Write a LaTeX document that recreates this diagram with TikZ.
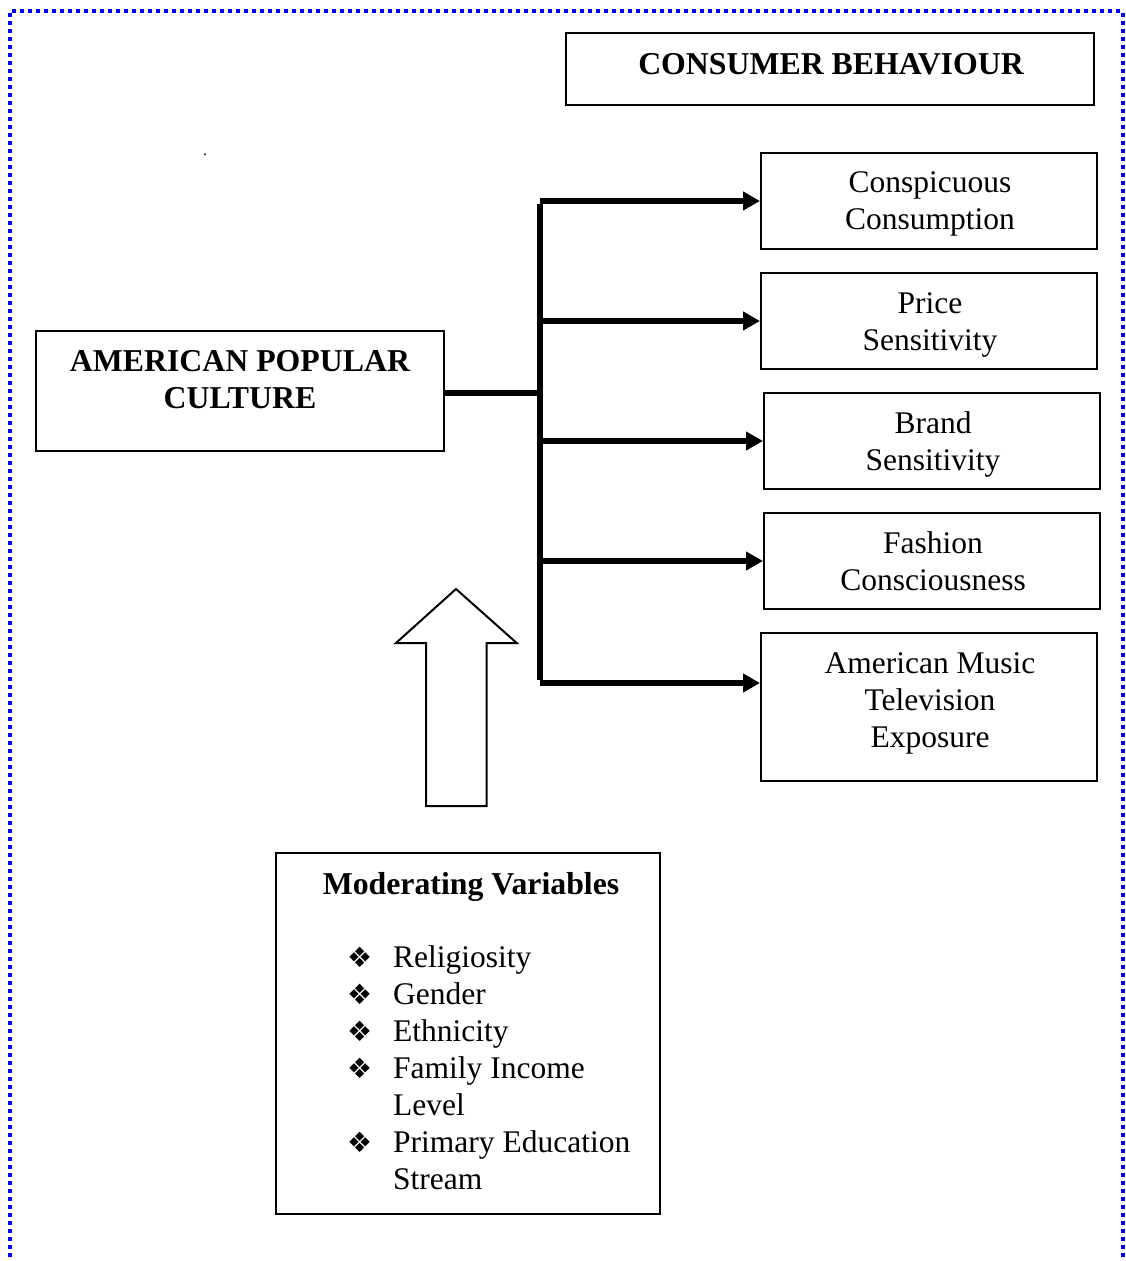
\documentclass[tikz,border=0pt]{standalone}
\usepackage{fontspec}
\setmainfont{Liberation Serif}
\newfontfamily\dingfont{DejaVu Sans}
\usetikzlibrary{arrows.meta}
\newcommand\ts{\fontsize{31.5}{37}\selectfont}
\newcommand\tsb{\fontsize{31.8}{37}\selectfont}
\newcommand\bul{{\dingfont\fontsize{28}{37}\selectfont ❖}}
\begin{document}
\begin{tikzpicture}[x=1pt,y=-1pt,
  box/.style={draw, line width=2pt, rectangle, inner sep=0pt},
  lbl/.style={font=\ts, align=center, inner sep=0pt},
  blbl/.style={font=\tsb\bfseries, align=center, inner sep=0pt},
  conn/.style={line width=5.5pt, -{Triangle[length=17pt,width=18pt]}},
  frame/.style={draw=blue, line width=4pt, dash pattern=on 4pt off 4pt}]
\useasboundingbox (0,0) rectangle (1125,1261);
% dotted frame
\draw[frame] (9.7,1265) -- (9.7,11.3) -- (1122.5,11.3) -- (1122.5,1265);
% boxes
\node[box, minimum width=528pt, minimum height=72pt] (cb) at (830,69) {};
\node[box, minimum width=336pt, minimum height=96pt] (cc) at (929,201) {};
\node[box, minimum width=336pt, minimum height=96pt] (ps) at (929,321) {};
\node[box, minimum width=336pt, minimum height=96pt] (bs) at (932,441) {};
\node[box, minimum width=336pt, minimum height=96pt] (fc) at (932,561) {};
\node[box, minimum width=336pt, minimum height=148pt] (am) at (929,707) {};
\node[box, minimum width=408pt, minimum height=120pt] (apc) at (240,391) {};
\node[box, minimum width=384pt, minimum height=361pt] (mv) at (468,1033.5) {};
% labels
\node[blbl] (cbt) at (831,67) {\strut CONSUMER BEHAVIOUR\strut};
\node[lbl] (cct) at (930,204) {\strut Conspicuous\\Consumption\strut};
\node[lbl] (pst) at (930,324.5) {\strut Price\\Sensitivity\strut};
\node[lbl] (bst) at (933,444.5) {\strut Brand\\Sensitivity\strut};
\node[lbl] (fct) at (933,565) {\strut Fashion\\Consciousness\strut};
\node[lbl] (amt) at (930,703) {\strut American Music\\Television\\Exposure\strut};
\node[blbl] (apct) at (240,383) {\strut AMERICAN POPULAR\\CULTURE\strut};
\node[blbl] (mvt) at (471,887) {\strut Moderating Variables\strut};
\node[font=\ts, inner sep=0pt, anchor=base west] (mvl) at (347,967) {%
  \begin{tabular}[t]{@{}p{46pt}@{}l@{}}
  \bul & Religiosity\\
  \bul & Gender\\
  \bul & Ethnicity\\
  \bul & Family Income\\
       & Level\\
  \bul & Primary Education\\
       & Stream
  \end{tabular}};
\node[font=\fontsize{16}{18}\selectfont, inner sep=0pt, anchor=base] (dot) at (205,155) {.};
% connectors
\coordinate (b1) at (540,201);
\coordinate (b2) at (540,321);
\coordinate (b3) at (540,441);
\coordinate (b4) at (540,561);
\coordinate (b5) at (540,683);
\draw[line width=5.5pt] (apc.east |- 0,393) -- (b1 |- 0,393);
\draw[line width=5.5pt] ([yshift=-2.75pt]b1) -- ([yshift=2.75pt]b5);
\draw[conn] (b1) -- (cc.west);
\draw[conn] (b2) -- (ps.west);
\draw[conn] (b3) -- (bs.west);
\draw[conn] (b4) -- (fc.west);
\draw[conn] (b5) -- (b5 -| am.west);
% block arrow
\draw[line width=2pt, line join=miter] (426,806) -- (426,643) -- (396,643) -- (456,589)
  -- (516.7,643) -- (486.7,643) -- (486.7,806) -- cycle;
\end{tikzpicture}
\end{document}
